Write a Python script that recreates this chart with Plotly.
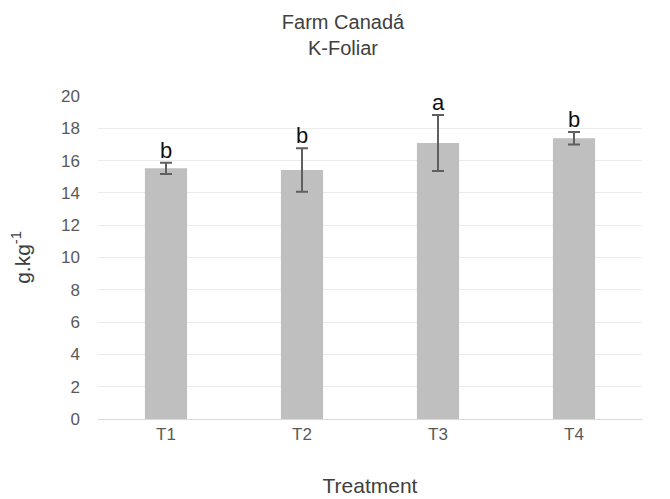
import plotly.graph_objects as go

categories = ["T1", "T2", "T3", "T4"]
means = [15.52, 15.42, 17.09, 17.38]
errors = [0.35, 1.35, 1.73, 0.39]
letters = ["b", "b", "a", "b"]
y_ticks = [0, 2, 4, 6, 8, 10, 12, 14, 16, 18, 20]

FONT = "Liberation Sans, Arial, sans-serif"

fig = go.Figure()
fig.add_trace(go.Bar(
    x=categories, y=means,
    marker=dict(color="#bfbfbf", line=dict(width=0)),
    error_y=dict(type="data", array=errors, visible=True,
                 color="#5f5f5f", thickness=2, width=6),
    showlegend=False,
))

for c, m, e, l in zip(categories, means, errors, letters):
    fig.add_annotation(x=c, y=m + e, text=l, showarrow=False,
                       yanchor="bottom", yshift=-2,
                       font=dict(family=FONT, size=22, color="#111111"))

fig.update_layout(
    width=670, height=499,
    margin=dict(l=88, r=36, t=88, b=88),
    paper_bgcolor="white", plot_bgcolor="white",
    bargap=0.69,
    title=dict(text="Farm Canadá<br>K-Foliar", x=0.5, xanchor="center",
               y=0.958, yanchor="top",
               font=dict(family=FONT, size=20, color="#404040")),
    font=dict(family=FONT, color="#595959"),
    xaxis=dict(
        showgrid=False, showline=True, linecolor="#d9d9d9", linewidth=1,
        ticks="", tickfont=dict(size=17, color="#595959"),
        title=dict(text="Treatment", standoff=34,
                   font=dict(size=21, color="#404040")),
    ),
    yaxis=dict(
        range=[0, 20], tickvals=y_ticks, showgrid=True, gridcolor="#ececec",
        zeroline=False, showline=False, ticks="",
        tickfont=dict(size=17, color="#595959"), ticklabelstandoff=17,
        title=dict(text="g.kg<sup>-1</sup>", standoff=26,
                   font=dict(size=21, color="#404040")),
    ),
)

fig.write_html("out.html")
